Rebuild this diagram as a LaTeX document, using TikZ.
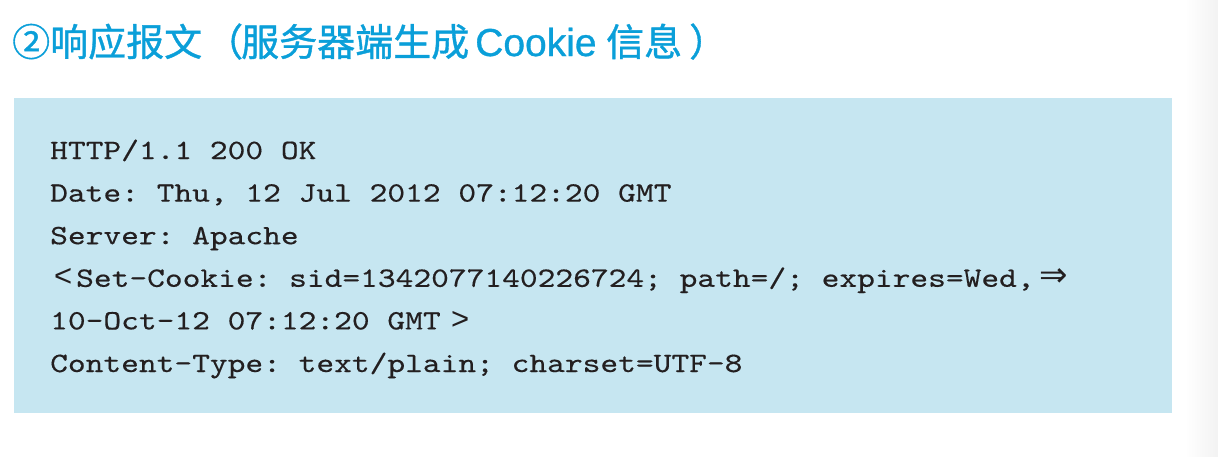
\documentclass[tikz,border=0pt]{standalone}
\usepackage{fontspec}
\setmonofont[Extension=.otf,UprightFont=*-regular,FakeStretch=1.2075,FakeBold=0.4]{lmmono10}
\newfontfamily\cjk[FakeBold=1]{Noto Sans CJK SC}
\newfontfamily\arialf{Liberation Sans}
\newfontfamily\arialbold[FakeBold=0.8]{Liberation Sans}
\newfontfamily\dejavu{DejaVu Sans}
\definecolor{titleblue}{HTML}{0A9FD9}
\definecolor{boxblue}{HTML}{C6E6F1}
\definecolor{codeink}{HTML}{231F20}
\begin{document}
\begin{tikzpicture}[x=1pt,y=-1pt,
  codeline/.style={anchor=base west,inner sep=0pt,text=codeink,font=\fontsize{28}{28}\selectfont\ttfamily},
  brk/.style={anchor=base west,inner sep=0pt,text=codeink,font=\fontsize{31}{31}\selectfont\arialf},
  titletext/.style={anchor=base west,inner sep=0pt,text=titleblue,font=\fontsize{38}{38}\selectfont\cjk},
  titlelatin/.style={anchor=base west,inner sep=0pt,text=titleblue,font=\fontsize{39}{39}\selectfont\arialbold}]
\useasboundingbox (0,0) rectangle (1218,456);
\fill[white] (0,0) rectangle (1218,456);
\shade[left color=white,right color=black!5] (1185,0) rectangle (1218,456);
\fill[boxblue] (14,98) rectangle (1172,413);
\node[titletext] (t1) at (12,56) {②响应报文};
\node[titletext] (t2) at (205,56) {（};
\node[titletext] (t3) at (241,56) {服务器端生成};
\node[titlelatin] (t4) at (475,56) {Cookie};
\node[titletext] (t5) at (606,56) {信息};
\node[titletext] (t6) at (689,56) {）};
\node[codeline] (l1) at (50,159) {HTTP/1.1 200 OK};
\node[codeline] (l2) at (50,201.6) {Date: Thu, 12 Jul 2012 07:12:20 GMT};
\node[codeline] (l3) at (50,244.2) {Server: Apache};
\node[brk] (lt) at (54,286.8) {<};
\node[codeline] (l4) at (76,286.8) {Set-Cookie: sid=1342077140226724; path=/; expires=Wed,};
\node[anchor=base west,inner sep=0pt,text=codeink,font=\fontsize{34}{34}\selectfont\dejavu] (arr) at (1039,286.8) {⇒};
\node[codeline] (l5) at (50,329.4) {10-Oct-12 07:12:20 GMT};
\node[brk] (gt) at (451,329.4) {>};
\node[codeline] (l6) at (50,372) {Content-Type: text/plain; charset=UTF-8};
\end{tikzpicture}
\end{document}
